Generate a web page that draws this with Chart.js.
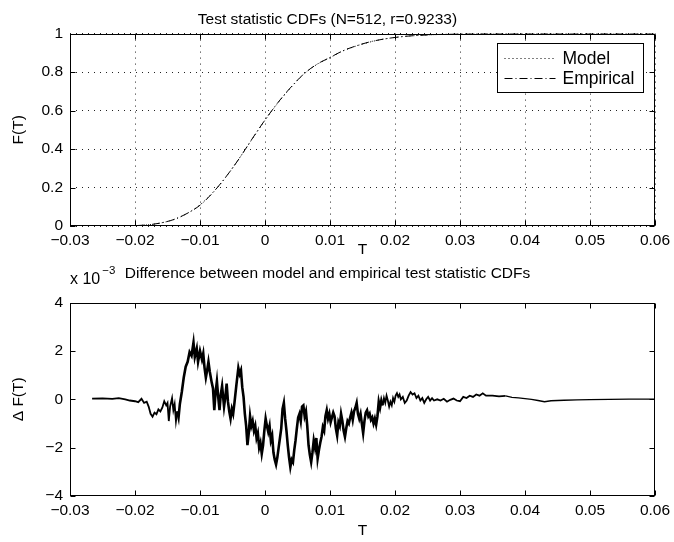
<!DOCTYPE html>
<html><head><meta charset="utf-8">
<script src="https://cdn.jsdelivr.net/npm/chart.js@4/dist/chart.umd.min.js"></script>
<style>
html,body{margin:0;padding:0;background:#fff;}
#wrap{position:relative;width:674px;height:542px;overflow:hidden;}
canvas{position:absolute;left:0;}
</style></head><body>
<div id="wrap">
<canvas id="c1" width="674" height="262" style="top:0px"></canvas>
<canvas id="c2" width="674" height="280" style="top:262px"></canvas>
</div>
<script>
// ---------- data ----------
const xTickValues = [-0.03,-0.02,-0.01,0,0.01,0.02,0.03,0.04,0.05,0.06];
const xTickLabels = ['−0.03','−0.02','−0.01','0','0.01','0.02','0.03','0.04','0.05','0.06'];
const topYTickValues = [0,0.2,0.4,0.6,0.8,1];
const topYTickLabels = ['0','0.2','0.4','0.6','0.8','1'];
const bottomYTickValues = [-4,-2,0,2,4];
const bottomYTickLabels = ['−4','−2','0','2','4'];

const topTitle = 'Test statistic CDFs (N=512, r=0.9233)';
const bottomTitle = 'Difference between model and empirical test statistic CDFs';
const seriesNames = ['Model','Empirical'];

const modelT = [-0.030,-0.025,-0.022,-0.020,-0.018,-0.016,-0.014,-0.012,-0.010,-0.008,-0.006,-0.004,-0.002,0.000,0.002,0.004,0.006,0.008,0.010,0.012,0.014,0.016,0.018,0.020,0.022,0.025,0.028,0.030,0.035,0.040,0.050,0.060];
const modelF = [0,0.0003,0.001,0.002,0.006,0.016,0.034,0.065,0.11,0.175,0.255,0.35,0.45,0.55,0.64,0.72,0.79,0.84,0.875,0.91,0.935,0.955,0.97,0.98,0.987,0.993,0.997,0.999,1,1,1,1];

const empiricalT = [-0.0266,-0.022,-0.020,-0.018,-0.016,-0.014,-0.012,-0.010,-0.008,-0.006,-0.004,-0.002,0.000,0.002,0.004,0.006,0.008,0.010,0.012,0.014,0.016,0.018,0.020,0.022,0.025,0.028,0.030,0.035,0.040,0.050,0.060];
const empiricalF = [0,0.001,0.002,0.006,0.016,0.034,0.065,0.108,0.174,0.256,0.349,0.452,0.551,0.642,0.722,0.791,0.841,0.876,0.911,0.936,0.956,0.97,0.98,0.987,0.993,0.997,0.999,1,1,1,1];

// difference (units of 1e-3)
const diffT = [-0.0266,-0.0250,-0.0235,-0.0225,-0.0215,-0.0208,-0.0200,-0.0195,-0.0190,-0.0186,-0.0182,-0.0179,-0.0176,-0.0173,-0.0170,-0.0167,-0.0164,-0.0161,-0.0158,-0.0155,-0.0152,-0.0150,-0.0148,-0.0146,-0.0143,-0.0141,-0.0139,-0.0137,-0.0135,-0.0133,-0.0131,-0.0128,-0.0125,-0.0122,-0.0119,-0.0116,-0.0113,-0.0110,-0.0108,-0.0105,-0.0103,-0.0100,-0.0097,-0.0095,-0.0093,-0.0091,-0.0089,-0.0087,-0.0085,-0.0082,-0.0080,-0.0078,-0.0076,-0.0074,-0.0072,-0.0070,-0.0068,-0.0066,-0.0063,-0.0061,-0.0059,-0.0057,-0.0055,-0.0053,-0.0051,-0.0049,-0.0047,-0.0044,-0.0041,-0.0039,-0.0037,-0.0035,-0.0033,-0.0031,-0.0029,-0.0027,-0.0025,-0.0023,-0.0021,-0.0019,-0.0017,-0.0015,-0.0013,-0.0011,-0.0009,-0.0007,-0.0005,-0.0003,-0.0001,0.0001,0.0003,0.0005,0.0007,0.0009,0.0011,0.0013,0.0015,0.0017,0.0019,0.0021,0.0023,0.0025,0.0027,0.0029,0.0031,0.0033,0.0035,0.0037,0.0039,0.0041,0.0043,0.0045,0.0047,0.0049,0.0051,0.0053,0.0055,0.0057,0.0059,0.0061,0.0063,0.0065,0.0067,0.0069,0.0071,0.0073,0.0075,0.0077,0.0079,0.0081,0.0083,0.0085,0.0087,0.0089,0.0091,0.0093,0.0095,0.0097,0.0099,0.0101,0.0103,0.0105,0.0107,0.0109,0.0111,0.0113,0.0115,0.0117,0.0119,0.0121,0.0123,0.0125,0.0127,0.0129,0.0131,0.0133,0.0135,0.0137,0.0139,0.0141,0.0143,0.0145,0.0147,0.0149,0.0151,0.0153,0.0155,0.0157,0.0159,0.0161,0.0163,0.0165,0.0167,0.0169,0.0171,0.0173,0.0175,0.0177,0.0179,0.0181,0.0183,0.0185,0.0187,0.0189,0.0191,0.0193,0.0195,0.0197,0.0199,0.0201,0.0203,0.0205,0.0207,0.0209,0.0212,0.0215,0.0218,0.0221,0.0224,0.0227,0.0230,0.0233,0.0236,0.0239,0.0242,0.0245,0.0248,0.0251,0.0254,0.0257,0.0260,0.0265,0.0270,0.0275,0.0280,0.0285,0.0290,0.0295,0.0300,0.0305,0.0310,0.0315,0.0320,0.0325,0.0330,0.0335,0.0340,0.0350,0.0360,0.0370,0.0380,0.0390,0.0400,0.0410,0.0420,0.0430,0.0440,0.0450,0.0460,0.0480,0.0500,0.0530,0.0560,0.0600];
const diffVal = [0.03,0.04,0.02,0.05,0.0,-0.05,-0.08,-0.12,0.02,-0.15,-0.1,-0.3,-0.6,-0.72,-0.55,-0.62,-0.42,-0.5,-0.35,-0.08,-0.25,-0.15,-0.9,-0.3,0.05,-0.45,-0.2,-0.9,-0.5,-0.75,-0.2,0.3,0.9,1.35,1.55,1.95,1.8,2.35,1.75,2.1,1.55,2.0,1.65,1.9,1.3,0.9,1.2,1.55,1.15,0.7,0.45,-0.45,0.3,0.75,0.1,-0.45,0.2,0.55,-0.3,0.1,0.65,-0.1,-0.5,-0.8,-0.4,-0.6,-0.15,0.6,1.3,1.05,1.2,0.5,0.1,-0.6,-1.1,-1.9,-1.4,-0.7,-1.1,-0.9,-1.3,-1.1,-1.6,-1.4,-2.0,-1.8,-2.25,-1.9,-1.3,-0.8,-1.1,-1.35,-1.1,-1.7,-1.5,-2.2,-2.5,-2.7,-2.4,-2.0,-1.6,-1.2,-0.4,-0.15,-0.8,-1.3,-1.9,-2.4,-2.8,-2.5,-2.6,-2.1,-1.7,-1.2,-0.75,-0.6,-0.9,-0.3,-0.25,-0.7,-0.5,-1.1,-1.9,-2.3,-2.6,-2.2,-1.7,-2.0,-1.6,-2.45,-2.1,-1.8,-1.55,-1.15,-1.3,-0.7,-0.45,-0.8,-0.6,-0.95,-0.75,-0.55,-0.7,-1.2,-1.5,-0.95,-1.1,-0.6,-0.9,-1.3,-1.55,-1.2,-0.9,-1.0,-0.75,-0.55,-0.85,-0.5,-0.35,-0.15,-0.6,-0.8,-0.6,-1.0,-1.4,-0.9,-0.55,-0.45,-0.7,-0.6,-0.85,-0.75,-1.0,-0.8,-1.05,-0.7,-0.1,-0.35,-0.05,-0.25,0.05,-0.15,0.15,-0.05,-0.3,-0.1,-0.25,0.05,-0.1,0.15,0.25,0.1,0.2,0.0,0.1,-0.15,-0.05,0.15,0.3,0.2,0.25,0.05,0.15,-0.05,0.05,-0.15,0.0,0.1,-0.05,0.05,-0.05,0.0,-0.05,0.02,-0.1,-0.02,0.03,-0.05,-0.08,0.1,0.05,0.15,0.1,0.2,0.15,0.25,0.15,0.15,0.12,0.14,0.08,0.06,0.03,0.0,-0.05,-0.1,-0.06,-0.05,-0.04,-0.02,-0.01,0.0,0.01,0.01];

// ---------- styling ----------
const FONT = 'Liberation Sans, Arial, Helvetica, sans-serif';
Chart.defaults.font.family = FONT;
Chart.defaults.font.size = 15;
Chart.defaults.color = '#000';

function makeX(scaleHeight, drawGrid, titlePadBottom){
  return {
    type:'linear', min:-0.03, max:0.06,
    afterBuildTicks:s=>{ s.ticks = xTickValues.map(v=>({value:v})); },
    afterFit:s=>{ s.height = scaleHeight; s.paddingLeft = 0; s.paddingRight = 0; },
    ticks:{ callback:(v,i)=>xTickLabels[i], padding:5, maxRotation:0, minRotation:0, autoSkip:false, color:'#000', font:{size:15.5} },
    grid:{ display:drawGrid, drawTicks:false, color:'#222', lineWidth:1 },
    border:{ display:false, dash:[1,5] },
    title:{ display:true, text:'T', color:'#000', font:{size:15.5}, padding:{top:0,bottom:titlePadBottom} }
  };
}
function makeY(min,max,vals,labels,drawGrid,titleText){
  return {
    type:'linear', min:min, max:max,
    afterBuildTicks:s=>{ s.ticks = vals.map(v=>({value:v})); },
    afterFit:s=>{ s.width = 70; s.paddingTop = 0; s.paddingBottom = 0; },
    ticks:{ callback:(v,i)=>labels[i], padding:7, autoSkip:false, color:'#000', font:{size:15.5} },
    grid:{ display:drawGrid, drawTicks:false, color:'#222', lineWidth:1 },
    border:{ display:false, dash:[1,5] },
    title:{ display:true, text:titleText, color:'#000', font:{size:15.5}, padding:{top:9,bottom:0} }
  };
}

const frameTicks = {
  id:'frameTicks',
  afterDatasetsDraw(chart, args, opts){
    const {ctx, chartArea:a, scales:{x, y}} = chart;
    ctx.save();
    ctx.setLineDash([]);
    ctx.strokeStyle = '#000';
    ctx.lineWidth = 1;
    const L = Math.round(a.left)+0.5, R = Math.round(a.right)-0.5;
    const T = Math.round(a.top)+0.5, B = Math.round(a.bottom)-0.5;
    ctx.strokeRect(L, T, R-L, B-T);
    const len = 5;
    ctx.beginPath();
    xTickValues.forEach(v=>{
      const px = Math.round(x.getPixelForValue(v))+0.5;
      ctx.moveTo(px, B); ctx.lineTo(px, B-len);
      ctx.moveTo(px, T); ctx.lineTo(px, T+len);
    });
    (opts.yvals||[]).forEach(v=>{
      const py = Math.round(y.getPixelForValue(v))+0.5;
      ctx.moveTo(L, py); ctx.lineTo(L+len, py);
      ctx.moveTo(R, py); ctx.lineTo(R-len, py);
    });
    ctx.stroke();
    ctx.restore();
  }
};

const boxLegend = {
  id:'boxLegend',
  afterDraw(chart){
    const {ctx, chartArea:a} = chart;
    const w = 146, h = 49;
    const bx = Math.round(a.right) - 12 - w + 0.5, by = Math.round(a.top) + 9 + 0.5;
    ctx.save();
    ctx.fillStyle = '#fff';
    ctx.fillRect(bx, by, w, h);
    ctx.strokeStyle = '#000'; ctx.lineWidth = 1; ctx.setLineDash([]);
    ctx.strokeRect(bx, by, w, h);
    chart.data.datasets.forEach((ds, i)=>{
      const cy = Math.round(by + 14 + i*20) + 0.5;
      ctx.beginPath();
      ctx.setLineDash(ds.borderDash || []);
      ctx.strokeStyle = ds.borderColor;
      ctx.lineWidth = 1;
      ctx.moveTo(bx + 7, cy); ctx.lineTo(bx + 58, cy);
      ctx.stroke();
      ctx.setLineDash([]);
      ctx.fillStyle = '#000';
      ctx.font = '17.5px ' + FONT;
      ctx.textBaseline = 'middle';
      ctx.textAlign = 'left';
      ctx.fillText(ds.label, bx + 65, cy + 1);
    });
    ctx.restore();
  }
};

const exponentLabel = {
  id:'exponentLabel',
  afterDraw(chart){
    const {ctx, chartArea:a} = chart;
    ctx.save();
    ctx.fillStyle = '#000';
    ctx.textAlign = 'left';
    ctx.textBaseline = 'alphabetic';
    ctx.font = '16px ' + FONT;
    const base = 'x 10';
    ctx.fillText(base, a.left, a.top - 19);
    const w = ctx.measureText(base).width;
    ctx.font = '11.5px ' + FONT;
    ctx.fillText('−3', a.left + w + 2, a.top - 29);
    ctx.restore();
  }
};

// ---------- top chart ----------
new Chart(document.getElementById('c1'), {
  type:'line',
  data:{ datasets:[
    { label:seriesNames[0], data:modelT.map((t,i)=>({x:t,y:modelF[i]})), borderColor:'#000', borderWidth:1, borderDash:[1,3], pointRadius:0, fill:false, cubicInterpolationMode:'monotone' },
    { label:seriesNames[1], data:empiricalT.map((t,i)=>({x:t,y:empiricalF[i]})), borderColor:'#000', borderWidth:1, borderDash:[8,3,1,3], pointRadius:0, fill:false, cubicInterpolationMode:'monotone' }
  ]},
  options:{
    responsive:false, animation:false, devicePixelRatio:1,
    layout:{ padding:{ left:0, right:19, top:0, bottom:0 } },
    scales:{ x: makeX(36, true, 3), y: makeY(0, 1, topYTickValues, topYTickLabels, true, 'F(T)') },
    plugins:{
      legend:{ display:false }, tooltip:{ enabled:false },
      title:{ display:true, text:topTitle, color:'#000', font:{size:15.5, weight:'normal'}, padding:{top:10, bottom:5} },
      frameTicks:{ yvals:topYTickValues }
    }
  },
  plugins:[frameTicks, boxLegend]
});

// ---------- bottom chart ----------
new Chart(document.getElementById('c2'), {
  type:'line',
  data:{ datasets:[
    { label:'ΔF', data:diffT.map((t,i)=>({x:t,y:diffVal[i]})), borderColor:'#000', borderWidth:2, pointRadius:0, fill:false, tension:0,
      borderJoinStyle:'miter',
      segment:{ borderWidth: c => {
        const xv = c.p0.parsed.x;
        if (xv >= -0.0135 && xv <= 0.018) return 2.6;
        if (xv > 0.036) return 1.3;
        return 1.8;
      }}
    }
  ]},
  options:{
    responsive:false, animation:false, devicePixelRatio:1,
    layout:{ padding:{ left:0, right:19, top:0, bottom:0 } },
    scales:{ x: makeX(46, false, 2), y: makeY(-4, 4, bottomYTickValues, bottomYTickLabels, false, 'Δ F(T)') },
    plugins:{
      legend:{ display:false }, tooltip:{ enabled:false },
      title:{ display:true, text:bottomTitle, color:'#000', font:{size:15.5, weight:'normal'}, padding:{top:2, bottom:20} },
      frameTicks:{ yvals:bottomYTickValues }
    }
  },
  plugins:[frameTicks, exponentLabel]
});
</script>
</body></html>
